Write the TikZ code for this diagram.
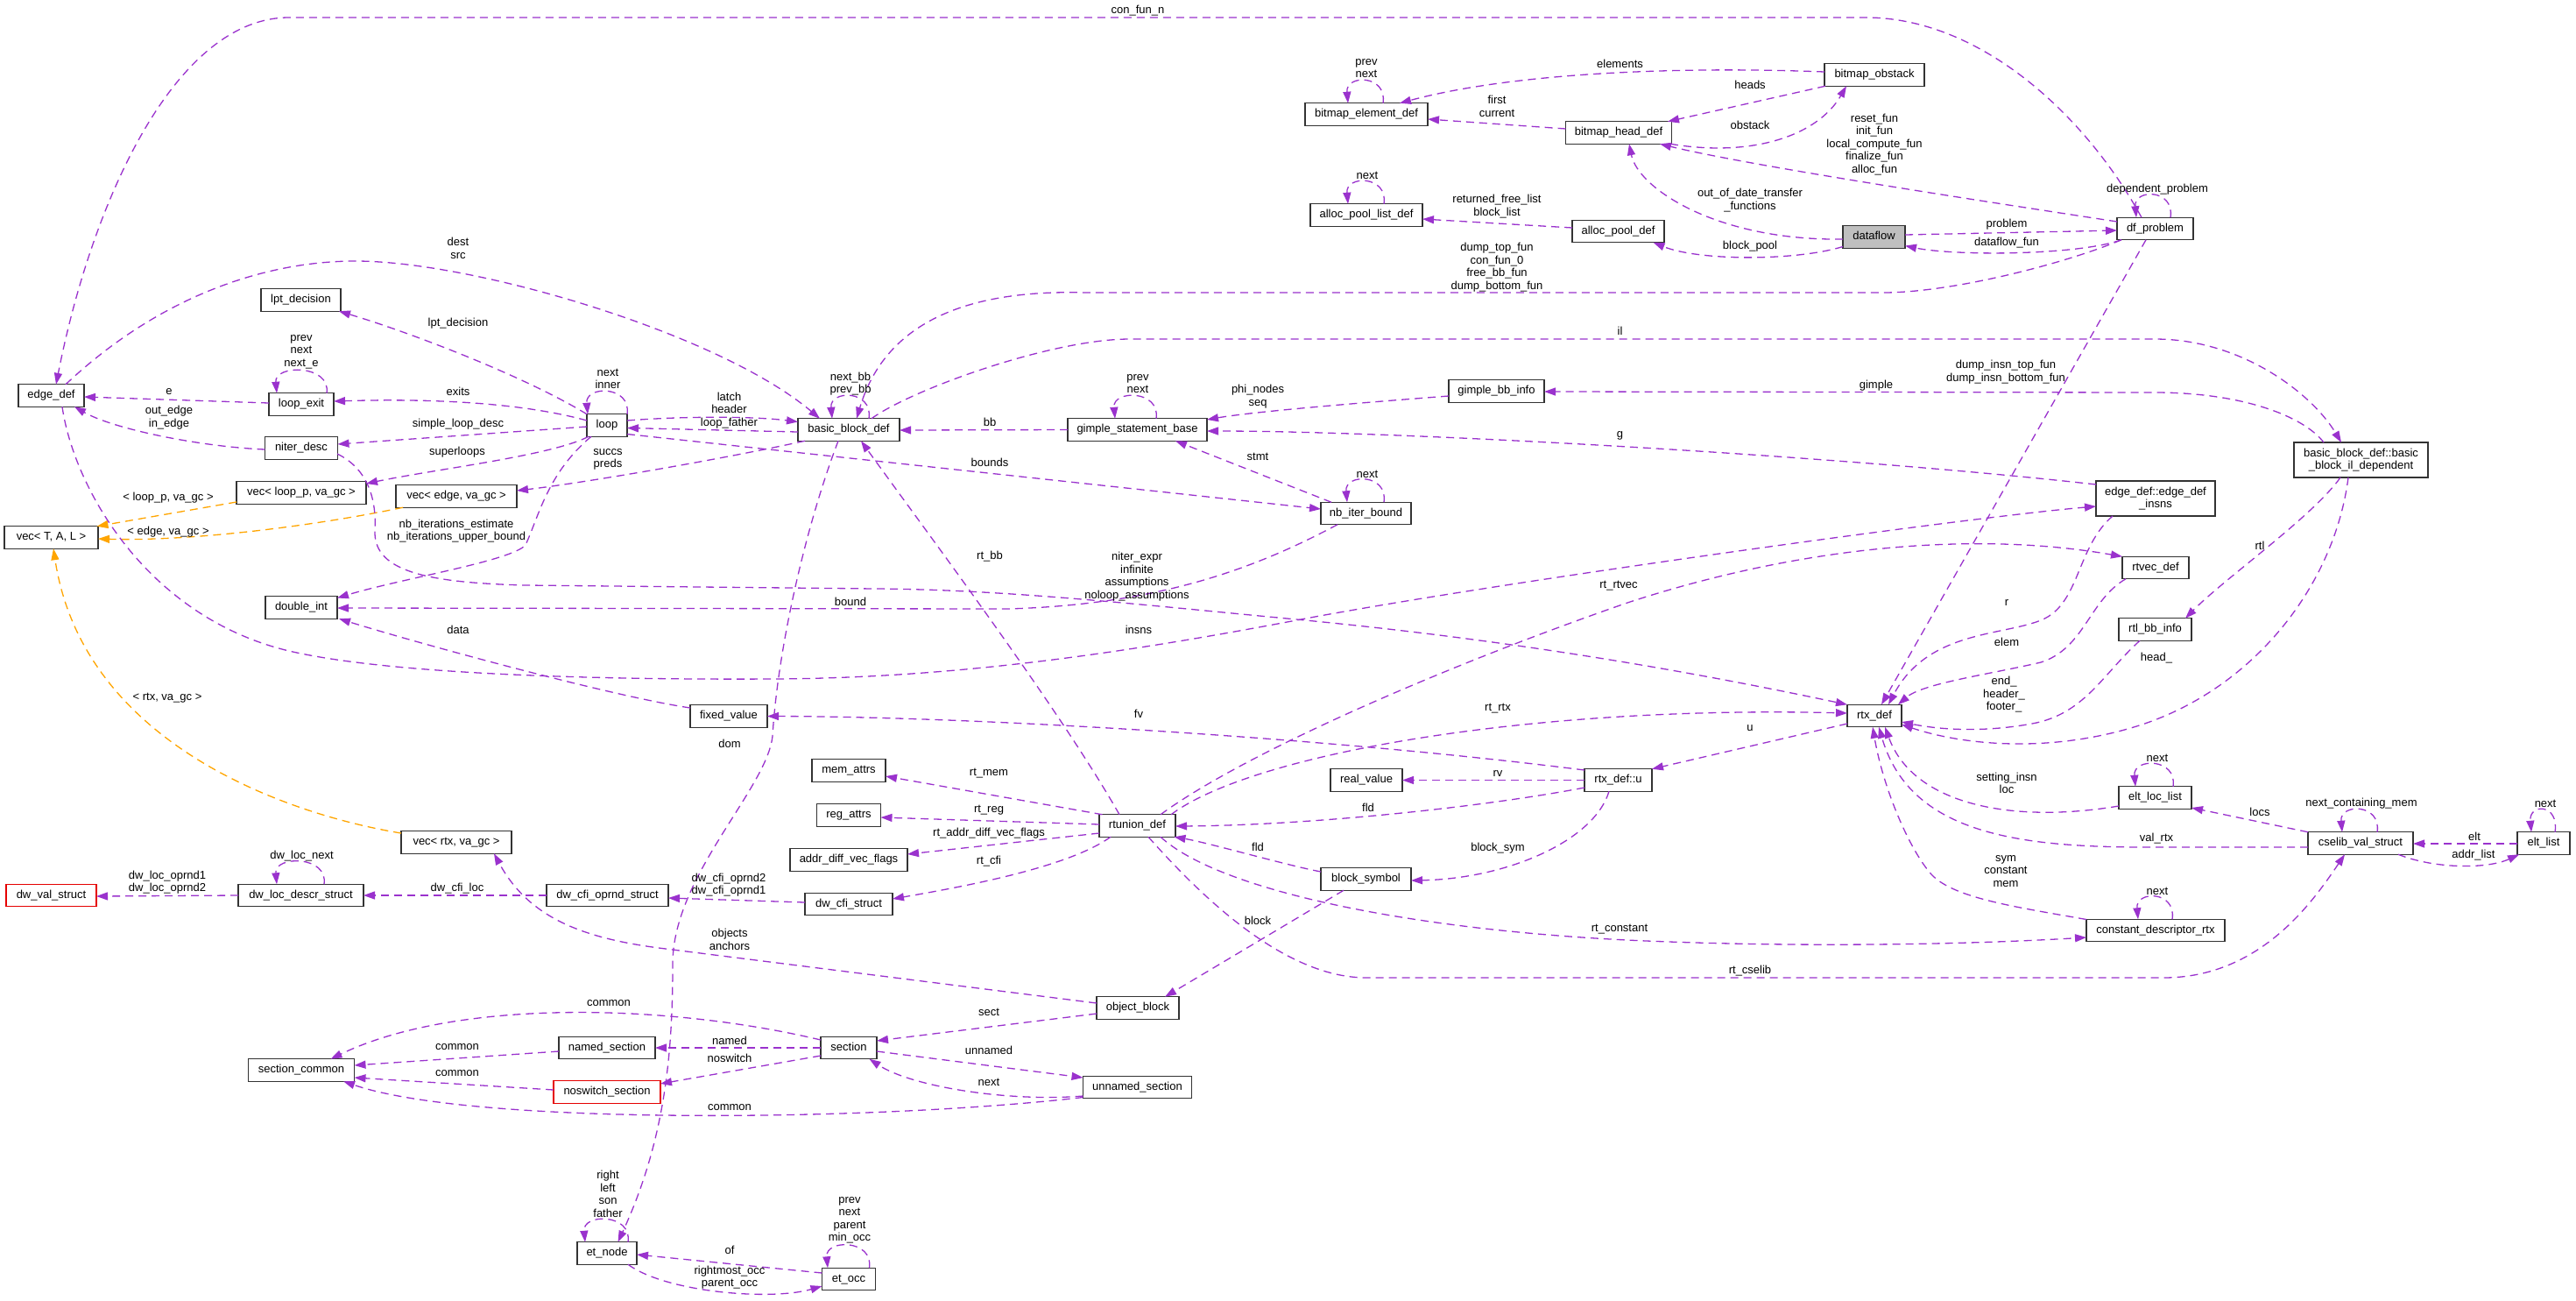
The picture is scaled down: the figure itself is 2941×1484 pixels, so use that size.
\documentclass[tikz,border=0pt]{standalone}
\usepackage{fontspec}
\setmainfont{Liberation Sans}
\usetikzlibrary{arrows.meta}
\definecolor{purp}{HTML}{9A32CD}
\definecolor{orng}{HTML}{FFA500}
\definecolor{dfgray}{HTML}{BFBFBF}
\newcommand{\dxfont}{\fontsize{13}{14.5}\selectfont}
\tikzset{
  cbase/.style={draw=black!80, line width=1.1pt, fill=white, inner sep=0pt, font=\dxfont},
  cls/.style={cbase, minimum height=25.5pt, text height=9.4pt, text depth=2.6pt},
  clsb/.style={cbase, minimum height=40pt, align=center},
  redcls/.style={cls, draw=red!90!black},
  maincls/.style={cls, fill=dfgray},
  ed/.style={draw=purp, line width=1.3pt, dash pattern=on 9pt off 6pt, -{Triangle[length=13pt,width=9pt]}},
  edo/.style={ed, draw=orng},
  lab/.style={font=\dxfont, align=center, inner sep=0pt},
}
\begin{document}
\begin{tikzpicture}[x=1pt,y=-1pt]
\useasboundingbox (0,0) rectangle (2941,1484);
% ---------- nodes ----------
\node[cls,minimum width=75pt] (nedge) at (58.5,451.5) {edge\_def};
\node[cls,minimum width=91pt] (nlpt) at (343.5,342.5) {lpt\_decision};
\node[cls,minimum width=74pt] (nlexit) at (344,461.5) {loop\_exit};
\node[cls,minimum width=46pt] (nloop) at (693,485.5) {loop};
\node[cls,minimum width=83pt] (nniter) at (344,511.5) {niter\_desc};
\node[cls,minimum width=148pt] (nvlp) at (344,562.5) {vec< loop\_p, va\_gc >};
\node[cls,minimum width=138pt] (nve) at (521,566.5) {vec< edge, va\_gc >};
\node[cls,minimum width=107pt] (nvtal) at (58.5,613.5) {vec< T, A, L >};
\node[cls,minimum width=82pt] (ndint) at (344,693.5) {double\_int};
\node[cls,minimum width=88pt] (nfixed) at (832,817.5) {fixed\_value};
\node[cls,minimum width=84pt] (nmem) at (969,879.5) {mem\_attrs};
\node[cls,minimum width=73pt] (nreg) at (969,930.5) {reg\_attrs};
\node[cls,minimum width=134pt] (nadv) at (969,981.5) {addr\_diff\_vec\_flags};
\node[cls,minimum width=126pt] (nvrtx) at (521,961.5) {vec< rtx, va\_gc >};
\node[redcls,minimum width=103pt] (ndwval) at (58.5,1022) {dw\_val\_struct};
\node[cls,minimum width=143pt] (ndwloc) at (343.5,1022) {dw\_loc\_descr\_struct};
\node[cls,minimum width=139pt] (ndwop) at (693.5,1022) {dw\_cfi\_oprnd\_struct};
\node[cls,minimum width=100pt] (ndwcfi) at (969,1032) {dw\_cfi\_struct};
\node[cls,minimum width=87pt] (nrtu) at (1298.5,942.5) {rtunion\_def};
\node[cls,minimum width=94pt] (nob) at (1299,1150.5) {object\_block};
\node[cls,minimum width=64pt] (nsec) at (969,1196) {section};
\node[cls,minimum width=124pt] (nusec) at (1298.5,1241) {unnamed\_section};
\node[cls,minimum width=110pt] (nnsec) at (693,1196) {named\_section};
\node[redcls,minimum width=122pt] (nnssec) at (693,1246.5) {noswitch\_section};
\node[cls,minimum width=121pt] (nscom) at (344,1221.5) {section\_common};
\node[cls,minimum width=68pt] (netn) at (693,1430.5) {et\_node};
\node[cls,minimum width=61pt] (neto) at (969,1460) {et\_occ};
\node[cls,minimum width=116pt] (nbbd) at (969,490.5) {basic\_block\_def};
\node[cls,minimum width=159pt] (ngsb) at (1298.5,490.5) {gimple\_statement\_base};
\node[cls,minimum width=103pt] (nnbi) at (1559.5,586) {nb\_iter\_bound};
\node[cls,minimum width=109pt] (ngbb) at (1708.5,446.5) {gimple\_bb\_info};
\node[cls,minimum width=140pt] (nbel) at (1560,130.5) {bitmap\_element\_def};
\node[cls,minimum width=121pt] (nbhd) at (1848,151.5) {bitmap\_head\_def};
\node[cls,minimum width=114pt] (nbob) at (2140,85.5) {bitmap\_obstack};
\node[cls,minimum width=128pt] (napl) at (1560,245.5) {alloc\_pool\_list\_def};
\node[cls,minimum width=105pt] (napd) at (1847.5,264) {alloc\_pool\_def};
\node[maincls,minimum width=71pt] (ndf) at (2139.5,270.5) {dataflow};
\node[cls,minimum width=87pt] (ndfp) at (2460.5,261) {df\_problem};
\node[clsb,minimum width=153pt] (nild) at (2695.5,525) {basic\_block\_def::basic\\\_block\_il\_dependent};
\node[clsb,minimum width=136pt] (neins) at (2461,569) {edge\_def::edge\_def\\\_insns};
\node[cls,minimum width=76pt] (nrtvec) at (2461,648) {rtvec\_def};
\node[cls,minimum width=83pt] (nrtlbb) at (2460.5,718.5) {rtl\_bb\_info};
\node[cls,minimum width=62pt] (nrtx) at (2140,817) {rtx\_def};
\node[cls,minimum width=82pt] (nreal) at (1560,890.5) {real\_value};
\node[cls,minimum width=77pt] (nrtxu) at (1847.5,890.5) {rtx\_def::u};
\node[cls,minimum width=103pt] (nbsym) at (1559.5,1003.5) {block\_symbol};
\node[cls,minimum width=83pt] (nell) at (2460.5,910.5) {elt\_loc\_list};
\node[cls,minimum width=120pt] (ncsv) at (2695,962.5) {cselib\_val\_struct};
\node[cls,minimum width=60pt] (nelt) at (2904,962.5) {elt\_list};
\node[cls,minimum width=158pt] (ncdr) at (2461,1062) {constant\_descriptor\_rtx};
% ---------- edges ----------
\draw[ed] ([shift={(-15.5,-12.75)}]ndfp.center) .. controls (2380,130) and (2260,20) .. (2130,20) -- (330,20) .. controls (200,20) and (105,230) .. ([shift={(5.5,-12.75)}]nedge.center);
\draw[ed] ([shift={(17.5,-12.75)}]ndfp.center) .. controls ([shift={(22.5,-45.75)}]ndfp.center) and ([shift={(-24.5,-45.75)}]ndfp.center) .. ([shift={(-21.5,-12.75)}]ndfp.center);
\draw[ed] ([shift={(35.5,-2.5)}]ndf.center) -- ([shift={(-43.5,2)}]ndfp.center);
\draw[ed] ([shift={(-38.5,12.75)}]ndfp.center) .. controls (2370,292) and (2230,292) .. ([shift={(35.5,10)}]ndf.center);
\draw[ed] ([shift={(-43.5,-8)}]ndfp.center) .. controls (2300,235) and (2000,190) .. ([shift={(47,12.75)}]nbhd.center);
\draw[ed] ([shift={(-35.5,2.5)}]ndf.center) .. controls (1960,275) and (1870,215) .. ([shift={(12,12.75)}]nbhd.center);
\draw[ed] ([shift={(-35.5,11)}]ndf.center) .. controls (2050,298) and (1940,298) .. ([shift={(40,12.75)}]napd.center);
\draw[ed] ([shift={(59,12.75)}]nbhd.center) .. controls (2000,180) and (2075,155) .. ([shift={(-32,12.75)}]nbob.center);
\draw[ed] ([shift={(-56,12.75)}]nbob.center) -- ([shift={(56,-12.75)}]nbhd.center);
\draw[ed] ([shift={(-57,-3.5)}]nbob.center) .. controls (1900,75) and (1720,85) .. ([shift={(38,-12.75)}]nbel.center);
\draw[ed] ([shift={(-60.5,-4.5)}]nbhd.center) -- ([shift={(70,5.5)}]nbel.center);
\draw[ed] ([shift={(19,-12.75)}]nbel.center) .. controls ([shift={(24,-45.75)}]nbel.center) and ([shift={(-24,-45.75)}]nbel.center) .. ([shift={(-21,-12.75)}]nbel.center);
\draw[ed] ([shift={(20,-12.75)}]napl.center) .. controls ([shift={(25,-45.75)}]napl.center) and ([shift={(-24,-45.75)}]napl.center) .. ([shift={(-21,-12.75)}]napl.center);
\draw[ed] ([shift={(-52.5,-4)}]napd.center) -- ([shift={(64,4.5)}]napl.center);
\draw[ed] ([shift={(-38.5,12.75)}]ndfp.center) .. controls (2360,300) and (2230,334) .. (2150,334) -- (1240,334) .. controls (1100,330) and (1010,370) .. ([shift={(9,-12.75)}]nbbd.center);
\draw[ed] ([shift={(16.5,-12.75)}]nedge.center) .. controls (180,340) and (300,298) .. (406,298) .. controls (540,298) and (820,380) .. ([shift={(-33,-12.75)}]nbbd.center);
\draw[ed] ([shift={(-23,-12.75)}]nloop.center) .. controls (600,430) and (470,380) .. ([shift={(43.5,12.75)}]nlpt.center);
\draw[ed] ([shift={(23,-12.75)}]nloop.center) .. controls ([shift={(28,-45.75)}]nloop.center) and ([shift={(-25,-45.75)}]nloop.center) .. ([shift={(-22,-12.75)}]nloop.center);
\draw[ed] ([shift={(-23,-5.5)}]nloop.center) .. controls (590,458) and (480,455) .. ([shift={(37,-3.5)}]nlexit.center);
\draw[ed] ([shift={(-37,-1.5)}]nlexit.center) -- ([shift={(37.5,1.5)}]nedge.center);
\draw[ed] ([shift={(29,-12.75)}]nlexit.center) .. controls ([shift={(34,-45.75)}]nlexit.center) and ([shift={(-31,-45.75)}]nlexit.center) .. ([shift={(-28,-12.75)}]nlexit.center);
\draw[ed] ([shift={(23,-5.5)}]nloop.center) .. controls (780,475) and (860,475) .. ([shift={(-58,-9)}]nbbd.center);
\draw[ed] ([shift={(-58,2.5)}]nbbd.center) -- ([shift={(23,3)}]nloop.center);
\draw[ed] ([shift={(23,10)}]nloop.center) -- ([shift={(-51.5,-5)}]nnbi.center);
\draw[ed] ([shift={(-23,1.5)}]nloop.center) -- ([shift={(41.5,-4.5)}]nniter.center);
\draw[ed] ([shift={(-41.5,1.5)}]nniter.center) .. controls (230,510) and (130,490) .. ([shift={(26.5,12.75)}]nedge.center);
\draw[ed] ([shift={(-21,12.75)}]nloop.center) .. controls (630,520) and (500,535) .. ([shift={(74,-10.5)}]nvlp.center);
\draw[ed] ([shift={(-18,12.75)}]nloop.center) .. controls (625,540) and (615,590) .. (600,622) .. controls (585,640) and (460,660) .. ([shift={(41,-11)}]ndint.center);
\draw[ed] ([shift={(-50,12.75)}]nbbd.center) .. controls (820,525) and (660,552) .. ([shift={(69,-6.5)}]nve.center);
\draw[edo] ([shift={(-74,10.5)}]nvlp.center) -- ([shift={(52,-12.75)}]nvtal.center);
\draw[edo] ([shift={(-61,12.75)}]nve.center) .. controls (360,600) and (220,618) .. ([shift={(53.5,1.5)}]nvtal.center);
\draw[edo] ([shift={(-63,-10.5)}]nvrtx.center) .. controls (330,930) and (95,850) .. ([shift={(2.5,12.75)}]nvtal.center);
\draw[ed] ([shift={(12.5,12.75)}]nedge.center) .. controls (85,560) and (170,705) .. (330,743) .. controls (450,771) and (700,776) .. (882,775) .. controls (1100,774) and (1300,742) .. (1480,708) .. controls (1700,666) and (2250,590) .. ([shift={(-68,9)}]neins.center);
\draw[ed] ([shift={(41,6.5)}]nniter.center) .. controls (420,535) and (430,570) .. (428,605) .. controls (426,650) and (480,665) .. (600,668) -- (1000,672) .. controls (1150,673) and (1300,690) .. (1480,707) .. controls (1700,728) and (1900,760) .. ([shift={(-31,-12.75)}]nrtx.center);
\draw[ed] ([shift={(-32.5,12.75)}]nnbi.center) .. controls (1440,645) and (1330,690) .. (1150,695) -- ([shift={(41,0.5)}]ndint.center);
\draw[ed] ([shift={(-44,-9.5)}]nfixed.center) .. controls (700,795) and (480,735) .. ([shift={(43,12.75)}]ndint.center);
\draw[ed] ([shift={(-39.5,-12.75)}]nnbi.center) -- ([shift={(43.5,12.75)}]ngsb.center);
\draw[ed] ([shift={(20.5,-12.75)}]nnbi.center) .. controls ([shift={(25.5,-45.75)}]nnbi.center) and ([shift={(-24.5,-45.75)}]nnbi.center) .. ([shift={(-21.5,-12.75)}]nnbi.center);
\draw[ed] ([shift={(-79.5,0)}]ngsb.center) -- ([shift={(58,0.5)}]nbbd.center);
\draw[ed] ([shift={(21.5,-12.75)}]ngsb.center) .. controls ([shift={(26.5,-45.75)}]ngsb.center) and ([shift={(-28.5,-45.75)}]ngsb.center) .. ([shift={(-25.5,-12.75)}]ngsb.center);
\draw[ed] ([shift={(-54.5,5.5)}]ngbb.center) .. controls (1550,460) and (1430,470) .. ([shift={(79.5,-11.5)}]ngsb.center);
\draw[ed] ([shift={(23,-12.75)}]nbbd.center) .. controls ([shift={(28,-45.75)}]nbbd.center) and ([shift={(-22,-45.75)}]nbbd.center) .. ([shift={(-19,-12.75)}]nbbd.center);
\draw[ed] ([shift={(26,-12.75)}]nbbd.center) .. controls (1040,445) and (1200,387) .. (1290,387) -- (2460,387) .. controls (2560,387) and (2640,450) .. ([shift={(-22.5,-20)}]nild.center);
\draw[ed] ([shift={(-42.5,-20)}]nild.center) .. controls (2630,475) and (2560,448) .. (2460,448) -- ([shift={(54.5,0.5)}]ngbb.center);
\draw[ed] ([shift={(-68,-16)}]neins.center) .. controls (2100,520) and (1600,492) .. ([shift={(79.5,1.5)}]ngsb.center);
\draw[ed] ([shift={(-10.5,12.75)}]ndfp.center) -- ([shift={(8,-12.75)}]nrtx.center);
\draw[ed] ([shift={(-49,20)}]neins.center) .. controls (2370,625) and (2375,690) .. (2330,708) .. controls (2285,726) and (2200,720) .. ([shift={(16,-12.75)}]nrtx.center);
\draw[ed] ([shift={(-34,12.75)}]nrtvec.center) .. controls (2385,685) and (2380,740) .. (2330,756) .. controls (2270,770) and (2195,780) .. ([shift={(27,-12.75)}]nrtx.center);
\draw[ed] ([shift={(26.5,-12.75)}]nrtu.center) .. controls (1420,860) and (1650,760) .. (1858,688) .. controls (2050,625) and (2250,605) .. ([shift={(-38,-12.75)}]nrtvec.center);
\draw[ed] ([shift={(38.5,-12.75)}]nrtu.center) .. controls (1430,860) and (1750,805) .. ([shift={(-31,-3)}]nrtx.center);
\draw[ed] ([shift={(-31,9)}]nrtx.center) -- ([shift={(38.5,-12.75)}]nrtxu.center);
\draw[ed] ([shift={(-38.5,-11.5)}]nrtxu.center) .. controls (1500,840) and (1100,818) .. ([shift={(44,0)}]nfixed.center);
\draw[ed] ([shift={(-38.5,0)}]nrtxu.center) -- ([shift={(41,0)}]nreal.center);
\draw[ed] ([shift={(-38.5,8.5)}]nrtxu.center) .. controls (1700,920) and (1500,942) .. ([shift={(43.5,0.5)}]nrtu.center);
\draw[ed] ([shift={(-10.5,12.75)}]nrtxu.center) .. controls (1820,960) and (1720,1003) .. ([shift={(51.5,1.5)}]nbsym.center);
\draw[ed] ([shift={(-51.5,-8.5)}]nbsym.center) .. controls (1470,988) and (1380,962) .. ([shift={(42,12.75)}]nrtu.center);
\draw[ed] ([shift={(-25.5,12.75)}]nbsym.center) -- ([shift={(31,-12.75)}]nob.center);
\draw[ed] ([shift={(-20.5,-12.75)}]nrtu.center) .. controls (1210,810) and (1060,610) .. ([shift={(14,12.75)}]nbbd.center);
\draw[ed] ([shift={(-12,12.75)}]nbbd.center) .. controls (920,600) and (888,740) .. (882,840) .. controls (876,900) and (768,1000) .. (768,1100) .. controls (768,1200) and (760,1300) .. ([shift={(12.5,-12.75)}]netn.center);
\draw[ed] ([shift={(-40,-12.75)}]nrtu.center) -- ([shift={(42,6.5)}]nmem.center);
\draw[ed] ([shift={(-43.5,-1.5)}]nrtu.center) -- ([shift={(36.5,2.5)}]nreg.center);
\draw[ed] ([shift={(-43.5,8.5)}]nrtu.center) -- ([shift={(67,-6.5)}]nadv.center);
\draw[ed] ([shift={(-30.5,12.75)}]nrtu.center) .. controls (1220,990) and (1100,1012) .. ([shift={(50,-6)}]ndwcfi.center);
\draw[ed] ([shift={(12.5,12.75)}]nrtu.center) .. controls (1360,1010) and (1460,1116) .. (1560,1116) -- (2470,1116) .. controls (2580,1116) and (2640,1030) .. ([shift={(-18,12.75)}]ncsv.center);
\draw[ed] ([shift={(26.5,12.75)}]nrtu.center) .. controls (1390,1015) and (1600,1060) .. (1857,1073) .. controls (2050,1082) and (2250,1078) .. ([shift={(-79,8)}]ncdr.center);
\draw[ed] ([shift={(-50,-2)}]ndwcfi.center) -- ([shift={(69.5,3)}]ndwop.center);
\draw[ed] ([shift={(-69.5,0)}]ndwop.center) -- ([shift={(71.5,0)}]ndwloc.center);
\draw[ed] ([shift={(-71.5,0)}]ndwloc.center) -- ([shift={(51.5,1)}]ndwval.center);
\draw[ed] ([shift={(26.5,-12.75)}]ndwloc.center) .. controls ([shift={(31.5,-45.75)}]ndwloc.center) and ([shift={(-30.5,-45.75)}]ndwloc.center) .. ([shift={(-27.5,-12.75)}]ndwloc.center);
\draw[ed] ([shift={(-47,-5.5)}]nob.center) -- (760,1083) .. controls (670,1072) and (605,1050) .. ([shift={(43,12.75)}]nvrtx.center);
\draw[ed] ([shift={(-47,6.5)}]nob.center) -- ([shift={(32,-8)}]nsec.center);
\draw[ed] ([shift={(32,4)}]nsec.center) -- ([shift={(-62,-11)}]nusec.center);
\draw[ed] ([shift={(-62,10)}]nusec.center) .. controls (1150,1258) and (1040,1240) .. ([shift={(23.5,12.75)}]nsec.center);
\draw[ed] ([shift={(-62,11.5)}]nusec.center) .. controls (1000,1280) and (540,1285) .. ([shift={(48,12.75)}]nscom.center);
\draw[ed] ([shift={(-32,0)}]nsec.center) -- ([shift={(55,0)}]nnsec.center);
\draw[ed] ([shift={(-32,9)}]nsec.center) -- ([shift={(61,-9.5)}]nnssec.center);
\draw[ed] ([shift={(-32,-9)}]nsec.center) .. controls (760,1145) and (520,1140) .. ([shift={(33.5,-12.75)}]nscom.center);
\draw[ed] ([shift={(-55,4)}]nnsec.center) -- ([shift={(60.5,-5.5)}]nscom.center);
\draw[ed] ([shift={(-61,-2.5)}]nnssec.center) -- ([shift={(60.5,8.5)}]nscom.center);
\draw[ed] ([shift={(24,-12.75)}]netn.center) .. controls ([shift={(29,-45.75)}]netn.center) and ([shift={(-28,-45.75)}]netn.center) .. ([shift={(-25,-12.75)}]netn.center);
\draw[ed] ([shift={(-30.5,-7)}]neto.center) -- ([shift={(34,1.5)}]netn.center);
\draw[ed] ([shift={(24,12.75)}]netn.center) .. controls (760,1475) and (880,1485) .. ([shift={(-30.5,8)}]neto.center);
\draw[ed] ([shift={(23.5,-12.75)}]neto.center) .. controls ([shift={(28.5,-45.75)}]neto.center) and ([shift={(-27,-45.75)}]neto.center) .. ([shift={(-24,-12.75)}]neto.center);
\draw[ed] ([shift={(-23.5,20)}]nild.center) .. controls (2640,590) and (2540,660) .. ([shift={(34.5,-12.75)}]nrtlbb.center);
\draw[ed] ([shift={(-17.5,12.75)}]nrtlbb.center) .. controls (2400,770) and (2380,815) .. (2320,826) .. controls (2260,837) and (2210,832) .. ([shift={(31,7)}]nrtx.center);
\draw[ed] ([shift={(-14.5,20)}]nild.center) .. controls (2665,670) and (2570,790) .. (2436,830) .. controls (2336,860) and (2240,850) .. ([shift={(31,10)}]nrtx.center);
\draw[ed] ([shift={(-41.5,9.5)}]nell.center) .. controls (2300,940) and (2185,920) .. ([shift={(12,12.75)}]nrtx.center);
\draw[ed] ([shift={(-60,4.5)}]ncsv.center) -- (2450,967) .. controls (2300,967) and (2180,950) .. ([shift={(5,12.75)}]nrtx.center);
\draw[ed] ([shift={(-79,-12.5)}]ncdr.center) .. controls (2300,1035) and (2230,1025) .. (2205,998) .. controls (2180,970) and (2150,900) .. ([shift={(-2,12.75)}]nrtx.center);
\draw[ed] ([shift={(-60,-12.75)}]ncsv.center) -- ([shift={(41.5,11.5)}]nell.center);
\draw[ed] ([shift={(19,-12.75)}]ncsv.center) .. controls ([shift={(24,-45.75)}]ncsv.center) and ([shift={(-24,-45.75)}]ncsv.center) .. ([shift={(-21,-12.75)}]ncsv.center);
\draw[ed] ([shift={(-30,0.5)}]nelt.center) -- ([shift={(60,0.5)}]ncsv.center);
\draw[ed] ([shift={(43,12.75)}]ncsv.center) .. controls (2780,992) and (2840,992) .. ([shift={(-28,12.75)}]nelt.center);
\draw[ed] ([shift={(13,-12.75)}]nelt.center) .. controls ([shift={(18,-45.75)}]nelt.center) and ([shift={(-17,-45.75)}]nelt.center) .. ([shift={(-14,-12.75)}]nelt.center);
\draw[ed] ([shift={(20.5,-12.75)}]nell.center) .. controls ([shift={(25.5,-45.75)}]nell.center) and ([shift={(-25.5,-45.75)}]nell.center) .. ([shift={(-22.5,-12.75)}]nell.center);
\draw[ed] ([shift={(19,-12.75)}]ncdr.center) .. controls ([shift={(24,-45.75)}]ncdr.center) and ([shift={(-23,-45.75)}]ncdr.center) .. ([shift={(-20,-12.75)}]ncdr.center);
% ---------- labels ----------
\node[lab] (l1) at (1299,12) {con\_fun\_n};
\node[lab] (l2) at (2463,216) {dependent\_problem};
\node[lab] (l3) at (2291,256) {problem};
\node[lab] (l4) at (2291,277) {dataflow\_fun};
\node[lab] (l5) at (2140,165) {reset\_fun\\init\_fun\\local\_compute\_fun\\finalize\_fun\\alloc\_fun};
\node[lab] (l6) at (1998,228.5) {out\_of\_date\_transfer\\\_functions};
\node[lab] (l7) at (1998,281) {block\_pool};
\node[lab] (l8) at (1998,143) {obstack};
\node[lab] (l9) at (1998,97) {heads};
\node[lab] (l10) at (1849.5,73) {elements};
\node[lab] (l11) at (1709,121.5) {first\\current};
\node[lab] (l12) at (1560,78) {prev\\next};
\node[lab] (l13) at (1561,200) {next};
\node[lab] (l14) at (1709,235.5) {returned\_free\_list\\block\_list};
\node[lab] (l15) at (1709,305) {dump\_top\_fun\\con\_fun\_0\\free\_bb\_fun\\dump\_bottom\_fun};
\node[lab] (l16) at (523,283.5) {dest\\src};
\node[lab] (l17) at (523,369) {lpt\_decision};
\node[lab] (l18) at (694,432.5) {next\\inner};
\node[lab] (l19) at (523,447) {exits};
\node[lab] (l20) at (193,447) {e};
\node[lab] (l21) at (344,401.5) {prev\\next\\next\_e};
\node[lab] (l22) at (832.5,468.5) {latch\\header\\loop\_father};
\node[lab] (l23) at (1130,528) {bounds};
\node[lab] (l24) at (523,484) {simple\_loop\_desc};
\node[lab] (l25) at (193,476.5) {out\_edge\\in\_edge};
\node[lab] (l26) at (522,516) {superloops};
\node[lab] (l27) at (521,606) {nb\_iterations\_estimate\\nb\_iterations\_upper\_bound};
\node[lab] (l28) at (694,524.5) {succs\\preds};
\node[lab] (l29) at (192,568) {< loop\_p, va\_gc >};
\node[lab] (l30) at (192,607) {< edge, va\_gc >};
\node[lab] (l31) at (191,797) {< rtx, va\_gc >};
\node[lab] (l32) at (1300,719) {insns};
\node[lab] (l33) at (1298,658) {niter\_expr\\infinite\\assumptions\\noloop\_assumptions};
\node[lab] (l34) at (971,687) {bound};
\node[lab] (l35) at (523,719) {data};
\node[lab] (l36) at (1436,521) {stmt};
\node[lab] (l37) at (1561,541) {next};
\node[lab] (l38) at (1130,482) {bb};
\node[lab] (l39) at (1299,438) {prev\\next};
\node[lab] (l40) at (1436,452.5) {phi\_nodes\\seq};
\node[lab] (l41) at (971,438) {next\_bb\\prev\_bb};
\node[lab] (l42) at (1849.5,378) {il};
\node[lab] (l43) at (2142,440) {gimple};
\node[lab] (l44) at (1849.5,497) {g};
\node[lab] (l45) at (2290,424.5) {dump\_insn\_top\_fun\\dump\_insn\_bottom\_fun};
\node[lab] (l46) at (2291,688) {r};
\node[lab] (l47) at (2291,733) {elem};
\node[lab] (l48) at (1848,669) {rt\_rtvec};
\node[lab] (l49) at (1710,809) {rt\_rtx};
\node[lab] (l50) at (1998,831) {u};
\node[lab] (l51) at (1300,815) {fv};
\node[lab] (l52) at (1710,883) {rv};
\node[lab] (l53) at (1562,922) {fld};
\node[lab] (l54) at (1710,968) {block\_sym};
\node[lab] (l55) at (1436,967) {fld};
\node[lab] (l56) at (1436,1051) {block};
\node[lab] (l57) at (1130,635) {rt\_bb};
\node[lab] (l58) at (833,849) {dom};
\node[lab] (l59) at (1129,883) {rt\_mem};
\node[lab] (l60) at (1129,925) {rt\_reg};
\node[lab] (l61) at (1129,951) {rt\_addr\_diff\_vec\_flags};
\node[lab] (l62) at (1129,983) {rt\_cfi};
\node[lab] (l63) at (1998,1108) {rt\_cselib};
\node[lab] (l64) at (1849,1061) {rt\_constant};
\node[lab] (l65) at (832,1010) {dw\_cfi\_oprnd2\\dw\_cfi\_oprnd1};
\node[lab] (l66) at (522,1014) {dw\_cfi\_loc};
\node[lab] (l67) at (191,1007) {dw\_loc\_oprnd1\\dw\_loc\_oprnd2};
\node[lab] (l68) at (344.5,977) {dw\_loc\_next};
\node[lab] (l69) at (833,1072.5) {objects\\anchors};
\node[lab] (l70) at (1129,1155) {sect};
\node[lab] (l71) at (1129,1199) {unnamed};
\node[lab] (l72) at (1129,1235) {next};
\node[lab] (l73) at (833,1264) {common};
\node[lab] (l74) at (833,1188) {named};
\node[lab] (l75) at (833,1208) {noswitch};
\node[lab] (l76) at (695,1145) {common};
\node[lab] (l77) at (522,1195) {common};
\node[lab] (l78) at (522,1225) {common};
\node[lab] (l79) at (694,1363) {right\\left\\son\\father};
\node[lab] (l80) at (833,1427) {of};
\node[lab] (l81) at (833,1458) {rightmost\_occ\\parent\_occ};
\node[lab] (l82) at (970,1393) {prev\\next\\parent\\min\_occ};
\node[lab] (l83) at (2580,623) {rtl};
\node[lab] (l84) at (2462,751) {head\_};
\node[lab] (l85) at (2288,793) {end\_\\header\_\\footer\_};
\node[lab] (l86) at (2291,894) {setting\_insn\\loc};
\node[lab] (l87) at (2462,957) {val\_rtx};
\node[lab] (l88) at (2290,994.5) {sym\\constant\\mem};
\node[lab] (l89) at (2580,927) {locs};
\node[lab] (l90) at (2696,917) {next\_containing\_mem};
\node[lab] (l91) at (2825,955) {elt};
\node[lab] (l92) at (2824,976) {addr\_list};
\node[lab] (l93) at (2906,917) {next};
\node[lab] (l94) at (2463,865) {next};
\node[lab] (l95) at (2463,1017) {next};
\end{tikzpicture}
\end{document}
